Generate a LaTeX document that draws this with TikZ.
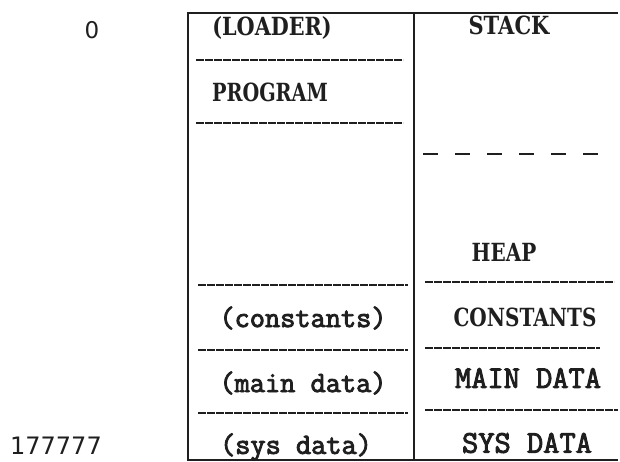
\documentclass[tikz,border=0pt]{standalone}
\usepackage{fontspec}
\newfontfamily\slabfont{DejaVu Serif}
\newfontfamily\typefont{Latin Modern Mono}[FakeBold=3]
\newfontfamily\numfont{DejaVu Sans}
\definecolor{ink}{gray}{0.12}
\newcommand{\slabtxt}[2]{\scalebox{#1}[1]{\slabfont\bfseries\fontsize{25}{27}\selectfont #2}}
\newcommand{\typetxt}[2]{{\typefont\fontsize{#1}{#1}\selectfont #2}}
\begin{document}
\begin{tikzpicture}[x=1pt,y=-1pt,
  solidline/.style={draw=ink,line width=1.6pt},
  sepline/.style={draw=ink,line width=1.3pt,dash pattern=on 8pt off 1pt},
  gapline/.style={draw=ink,line width=1.6pt,dash pattern=on 15pt off 17pt},
  lbl/.style={inner sep=0pt,text=ink,anchor=center}]
\useasboundingbox (0,0) rectangle (620,461);
% frame
\draw[solidline] (188,12) -- (188,461);
\draw[solidline] (414,13) -- (414,461);
\draw[solidline] (188,13) -- (618,13);
\draw[solidline] (188,460) -- (618,460);
% left separators
\draw[sepline] (196,60) -- (403,60);
\draw[sepline] (196,123) -- (403,123);
\draw[sepline] (198,285) -- (408,285);
\draw[sepline] (198,350) -- (408,350);
\draw[sepline] (198,413) -- (408,413);
% right separators
\draw[sepline] (425,282) -- (614,282);
\draw[sepline] (425,348) -- (600,348);
\draw[sepline] (425,410) -- (618,410);
\draw[gapline] (423,154) -- (598,154);
% labels
\node[lbl] (zero) at (92,30) {\numfont\fontsize{23}{23}\selectfont 0};
\node[lbl] (addr) at (56,446) {\numfont\fontsize{24}{24}\selectfont 177777};
\node[lbl] (loader) at (272,28) {\slabtxt{0.83}{(LOADER)}};
\node[lbl] (program) at (270,92) {\slabtxt{0.77}{PROGRAM}};
\node[lbl] (stack) at (509,25) {\slabtxt{0.84}{STACK}};
\node[lbl] (heap) at (504,252) {\slabtxt{0.8}{HEAP}};
\node[lbl] (constr) at (525,317) {\slabtxt{0.8}{CONSTANTS}};
\node[lbl] (constl) at (303,318) {\typetxt{29.5}{(constants)}};
\node[lbl] (mainl) at (303,383) {\typetxt{29.5}{(main data)}};
\node[lbl] (sysl) at (296,447) {\typetxt{29.5}{(sys data)}};
\node[lbl] (mainr) at (528,378) {\typetxt{31.5}{MAIN DATA}};
\node[lbl] (sysr) at (527,443) {\typetxt{31.5}{SYS DATA}};
\end{tikzpicture}
\end{document}
